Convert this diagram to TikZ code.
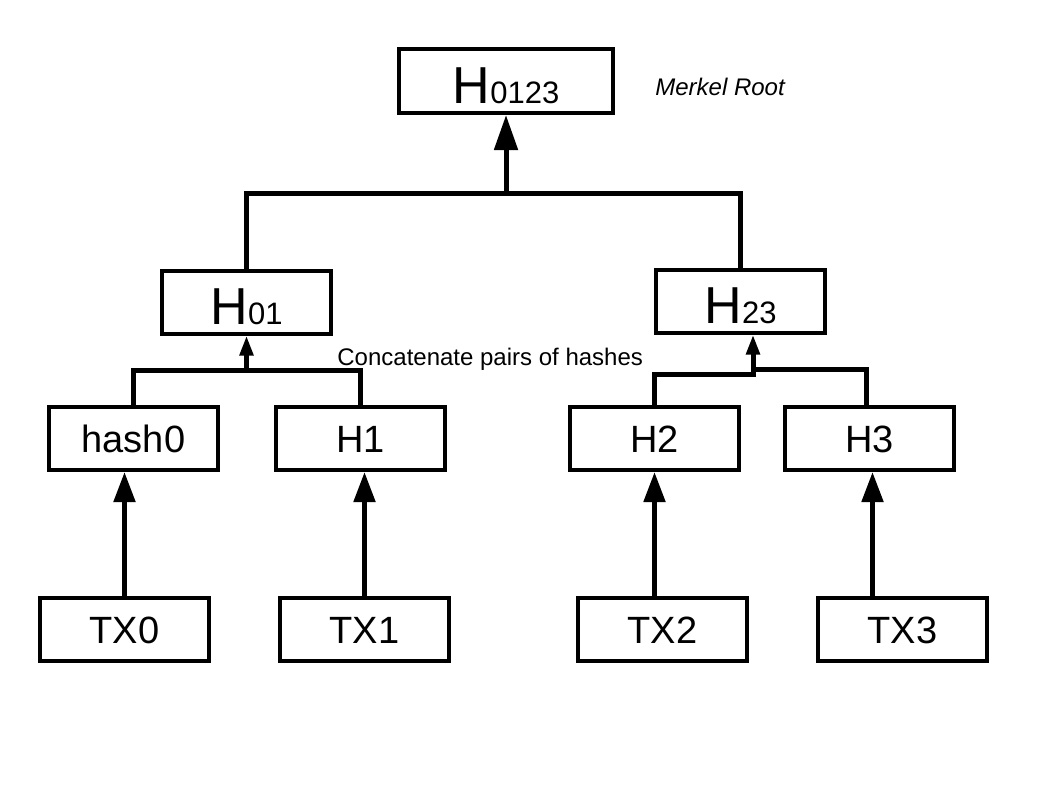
\documentclass[tikz,border=0pt]{standalone}
\usepackage{fontspec}
\setmainfont{Liberation Sans}
\usetikzlibrary{arrows.meta,positioning,calc}

\begin{document}
\begin{tikzpicture}[x=0.5pt,y=-0.5pt]
                \tikzstyle{every node}+=[inner sep=0pt]
                \tikzstyle{hashbox}=[draw=black,line width=2pt,minimum width=84.5pt,minimum height=31.5pt,text height=14.4pt,text depth=0pt,font=\fontsize{19}{19}\selectfont]
                \tikzstyle{bighash}=[hashbox,text height=22pt]
                \tikzstyle{link}=[black,line width=2.5pt]
                \tikzstyle{bigup}=[link,-{Triangle[length=15pt,width=10.5pt]}]
                \tikzstyle{rootup}=[link,-{Triangle[length=17.5pt,width=11.5pt]}]
                \tikzstyle{smallup}=[link,-{Triangle[length=10pt,width=6.5pt]}]
                \useasboundingbox (0,0) rectangle (1058,794);
                % root and middle level
                \node [bighash,minimum width=107pt,minimum height=32pt] (root) at (506,81) {\fontsize{26}{26}\selectfont H\fontsize{15.5}{15.5}\selectfont 0123};
                \node [anchor=base west,font=\fontsize{12}{12}\selectfont\itshape] (rootlabel) at (655,95) {Merkel Root};
                \node [bighash] (h01) at (246.5,302) {\fontsize{26}{26}\selectfont H\fontsize{15.5}{15.5}\selectfont 01};
                \node [bighash] (h23) at (740.5,301) {\fontsize{26}{26}\selectfont H\fontsize{15.5}{15.5}\selectfont 23};
                \node [anchor=base west,font=\fontsize{12}{12}\selectfont] (concat) at (337,365) {Concatenate pairs of hashes};
                % leaf hashes
                \node [hashbox] (hash0) at (133.5,438.5) {hash0};
                \node [hashbox] (h1) at (360.5,438.5) {H1};
                \node [hashbox] (h2) at (654.5,438.5) {H2};
                \node [hashbox] (h3) at (869.5,438.5) {H3};
                % transactions
                \node [hashbox] (tx0) at (124.5,629) {TX0};
                \node [hashbox] (tx1) at (364.5,629) {TX1};
                \node [hashbox] (tx2) at (662.5,629) {TX2};
                \node [hashbox] (tx3) at (902.5,629) {TX3};
                % hashing each transaction
                \draw [bigup] (tx0.north) -- (tx0.north |- hash0.south);
                \draw [bigup] (tx1.north) -- (tx1.north |- h1.south);
                \draw [bigup] (tx2.north -| h2.south) -- (h2.south);
                \draw [bigup] ($(tx3.north -| h3.south)+(3,0)$) -- ($(h3.south)+(3,0)$);
                % pairs
                \coordinate (j01) at ($(h01.south)+(0,35)$);
                \draw [link] (hash0.north) |- (j01) -| (h1.north);
                \draw [smallup] (j01) -- (h01.south);
                \coordinate (j23) at ($(h23.south)+(12.5,35)$);
                \draw [link] (h2.north) |- ($(j23)+(0,5)$) -- (j23) -| ($(h3.north)+(-3.5,0)$);
                \draw [smallup] (j23) -- (j23 |- h23.south);
                \coordinate (jr) at ($(root.south)+(0,78)$);
                \draw [link] (h01.north) |- (jr) -| (h23.north);
                \draw [rootup] (jr) -- (root.south);
\end{tikzpicture}
\end{document}
